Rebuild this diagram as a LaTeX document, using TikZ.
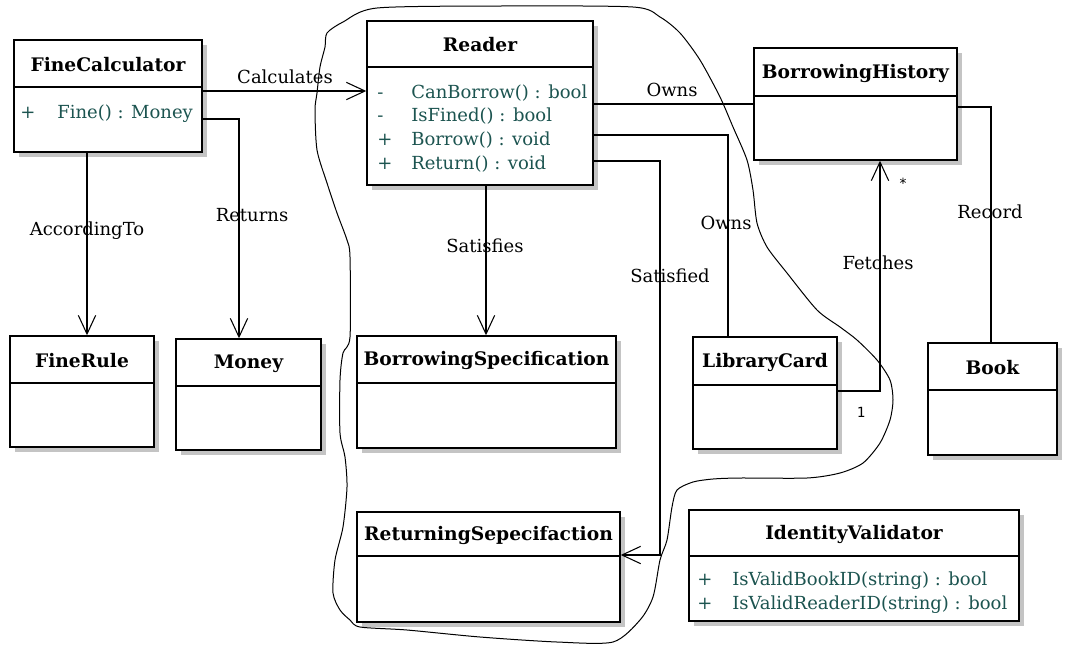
\documentclass[tikz,border=0pt]{standalone}
\usepackage{fontspec}
\setmainfont{DejaVu Serif}
\newfontfamily\multfont{DejaVu Sans Mono}
\usetikzlibrary{arrows.meta,shadows,fit}

\definecolor{optext}{RGB}{28,84,80}
\definecolor{shadowgrey}{RGB}{196,196,196}

\tikzset{
  classbox/.style={draw=black, line width=1.1pt, fill=white, inner sep=0pt,
    drop shadow={shadow xshift=3.8pt, shadow yshift=-3.8pt, fill=shadowgrey, opacity=1}},
  sepline/.style={line width=1.1pt},
  classname/.style={font=\bfseries\fontsize{14}{16}\selectfont, inner sep=0pt},
  op/.style={font=\fontsize{13.5}{15}\selectfont, text=optext, inner sep=0pt,
    text height=10pt, text depth=3pt},
  lbl/.style={font=\fontsize{13.5}{15}\selectfont, text=black, inner sep=0pt},
  mult/.style={font=\multfont\fontsize{10.5}{12}\selectfont, inner sep=0pt},
  assoc/.style={draw=black, line width=0.8pt},
  navarrow/.style={assoc, -{Straight Barb[length=14pt,width=13pt,line width=0.8pt]}},
  sketch/.style={draw=black, line width=0.75pt},
}

% #1 name, #2 #3 top-left, #4 #5 bottom-right, #6 separator y, #7 title
\newcommand\umlclass[7]{%
  \node[classbox, fit={(#2,#3) (#4,#5)}] (#1) {};
  \draw[sepline] (#2,#6) -- (#4,#6);
  \node[classname] (#1-name) at ({(#2+#4)/2},{(#3+#6)/2+1}) {#7};
}

\begin{document}
\begin{tikzpicture}[x=0.75pt, y=-0.75pt]
  \fill[white] (0,0) rectangle (1071,644);
  \useasboundingbox (0,0) rectangle (1071,644);

  % classes
  \umlclass{fc}{14}{40}{202}{152}{87}{FineCalculator}
  \umlclass{rd}{367}{21}{593}{185}{67}{Reader}
  \umlclass{hist}{754}{48}{957}{160}{96}{BorrowingHistory}
  \umlclass{rule}{10}{336}{154}{447}{383}{FineRule}
  \umlclass{money}{176}{339}{321}{450}{386}{Money}
  \umlclass{bspec}{357}{336}{616}{448}{383}{BorrowingSpecification}
  \umlclass{card}{693}{337}{837}{449}{385}{LibraryCard}
  \umlclass{book}{928}{343}{1057}{455}{390}{Book}
  \umlclass{rspec}{357}{512}{620}{622}{556}{ReturningSepecifaction}
  \umlclass{idv}{689}{510}{1019}{621}{556}{IdentityValidator}

  % operations
  \node[op, anchor=west] (fc-v1) at (20,114) {+};
  \node[op, anchor=west] (fc-o1) at (57,114) {Fine() : Money};

  \node[op, anchor=west] (rd-v1) at (377,94) {-};
  \node[op, anchor=west] (rd-o1) at (411,94) {CanBorrow() : bool};
  \node[op, anchor=west] (rd-v2) at (377,117) {-};
  \node[op, anchor=west] (rd-o2) at (411,117) {IsFined() : bool};
  \node[op, anchor=west] (rd-v3) at (377,141) {+};
  \node[op, anchor=west] (rd-o3) at (411,141) {Borrow() : void};
  \node[op, anchor=west] (rd-v4) at (377,165) {+};
  \node[op, anchor=west] (rd-o4) at (411,165) {Return() : void};

  \node[op, anchor=west] (idv-v1) at (697,581) {+};
  \node[op, anchor=west] (idv-o1) at (732,581) {IsValidBookID(string) : bool};
  \node[op, anchor=west] (idv-v2) at (697,605) {+};
  \node[op, anchor=west] (idv-o2) at (732,605) {IsValidReaderID(string) : bool};

  % bend points of the connectors
  \coordinate (k-calc) at (300,91);
  \coordinate (k-ret) at (239,119);
  \coordinate (k-acc) at (87,250);
  \coordinate (k-sat) at (486,250);
  \coordinate (k-own) at (728,135);
  \coordinate (k-sd1) at (660,161);
  \coordinate (k-sd2) at (660,555);
  \coordinate (k-fe) at (880,391);
  \coordinate (k-rec) at (991,107);

  % associations
  \draw[navarrow] (fc.east |- k-calc) -- (rd.west |- k-calc);
  \draw[navarrow] (fc.east |- k-ret) -- (k-ret) -- (money.north -| k-ret);
  \draw[navarrow] (fc.south -| k-acc) -- (rule.north -| k-acc);
  \draw[navarrow] (rd.south -| k-sat) -- (bspec.north -| k-sat);
  \draw[assoc] (rd.east |- hist.west) -- (hist.west);
  \draw[assoc] (rd.east |- k-own) -- (k-own) -- (card.north -| k-own);
  \draw[navarrow] (rd.east |- k-sd1) -- (k-sd1) -- (k-sd2) -- (rspec.east |- k-sd2);
  \draw[navarrow] (card.east |- k-fe) -- (k-fe) -- (hist.south -| k-fe);
  \draw[assoc] (hist.east |- k-rec) -- (k-rec) -- (book.north -| k-rec);

  % association labels
  \node[lbl] (l-calc) at (285,77) {Calculates};
  \node[lbl] (l-ret) at (252,215) {Returns};
  \node[lbl] (l-acc) at (87,231) {AccordingTo};
  \node[lbl] (l-sat) at (485,246) {Satisfies};
  \node[lbl] (l-own1) at (672,90) {Owns};
  \node[lbl] (l-own2) at (726,223) {Owns};
  \node[lbl] (l-sd) at (670,276) {Satisfied};
  \node[lbl] (l-fe) at (878,263) {Fetches};
  \node[lbl] (l-rec) at (990,212) {Record};
  \node[mult] (m-one) at (861,412) {1};
  \node[mult] (m-many) at (903,183) {*};

  % freehand boundary
  \draw[sketch] plot[smooth cycle, tension=0.45] coordinates {
    (377,8) (500,6) (633,7) (660,17) (680,33) (700,60) (720,97) (733,127)
    (747,160) (753,190) (757,223) (767,247) (787,273) (817,310) (840,327)
    (857,340) (877,360) (890,380) (893,400) (890,420) (880,443) (863,463)
    (840,473) (807,478) (740,478) (713,479) (693,482) (677,490) (672,507)
    (667,540) (660,560) (653,597) (640,620) (613,642) (557,642) (480,637)
    (407,630) (360,627) (350,620) (340,610) (333,593) (335,560) (343,527)
    (347,487) (345,457) (340,433) (340,380) (343,353) (350,337) (350,257)
    (347,240) (337,213) (327,183) (317,150) (315,110) (317,93) (320,67)
    (325,47) (327,33) (343,22)};
\end{tikzpicture}
\end{document}
